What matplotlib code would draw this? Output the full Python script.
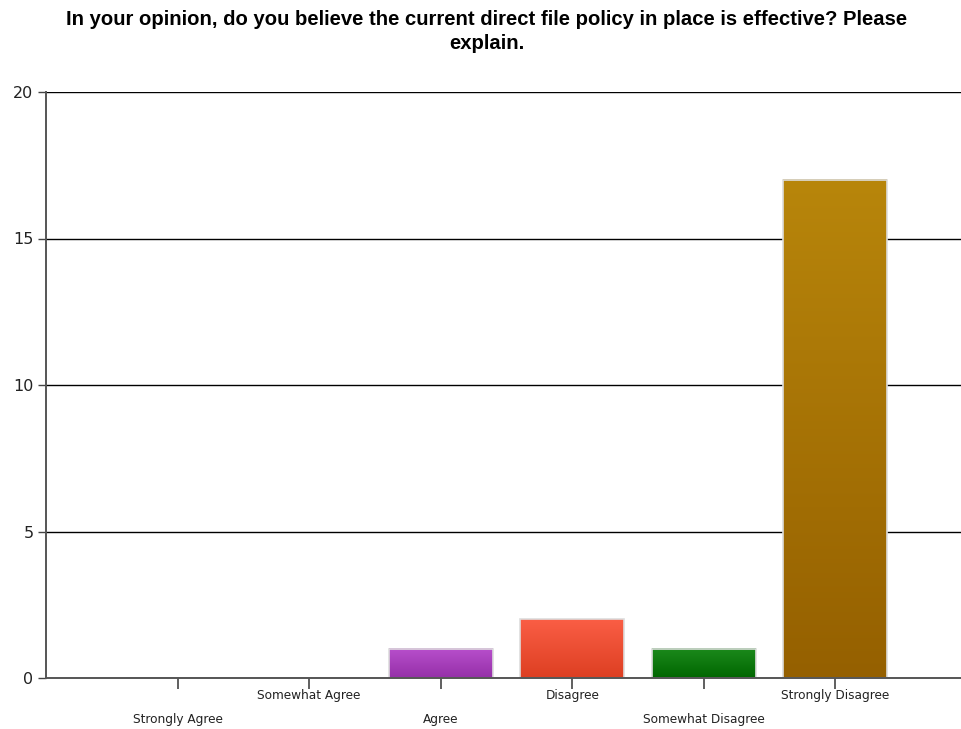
import numpy as np
import matplotlib
matplotlib.use("Agg")
import matplotlib.pyplot as plt
from matplotlib.colors import LinearSegmentedColormap

categories = ["Strongly Agree", "Somewhat Agree", "Agree", "Disagree",
              "Somewhat Disagree", "Strongly Disagree"]
counts = [0, 0, 1, 2, 1, 17]
top_colors = ["#B84FCC", "#B84FCC", "#B84FCC", "#FA5E45", "#1C8A1C", "#B8860B"]
bottom_colors = ["#9530A8", "#9530A8", "#9530A8", "#DD3F22", "#006600", "#956000"]
y_ticks = [0, 5, 10, 15, 20]
title = ("In your opinion, do you believe the current direct file policy in place is effective? Please\n"
         "explain.")

W, H = 961, 729
fig = plt.figure(figsize=(W / 100, H / 100), dpi=100)
left, right, top, bottom = 46, 967, 92, 678
ax = fig.add_axes([left / W, 1 - bottom / H, (right - left) / W, (bottom - top) / H])

positions = np.arange(1, len(categories) + 1)
bar_w = 0.79
bars = ax.bar(positions, counts, width=bar_w, facecolor="none",
              edgecolor="#DDDDDD", linewidth=1.2, zorder=4)
for bar, c0, c1, v in zip(bars, top_colors, bottom_colors, counts):
    if v <= 0:
        continue
    cmap = LinearSegmentedColormap.from_list("g", [c1, c0])
    grad = np.linspace(0, 1, 256).reshape(-1, 1)
    x0 = bar.get_x()
    ax.imshow(grad, cmap=cmap, origin="lower", aspect="auto",
              extent=(x0, x0 + bar.get_width(), 0, v), zorder=3)

ax.set_xlim(0, 7)
ax.set_ylim(0, 20)
ax.set_yticks(y_ticks)
ax.set_yticklabels([str(t) for t in y_ticks], fontsize=11.5, color="#222222",
                   family="DejaVu Sans")
for t in y_ticks[1:]:
    ax.axhline(t, color="black", linewidth=1.0, zorder=2)

ax.set_xticks(positions)
ax.set_xticklabels([])
for i, (p, name) in enumerate(zip(positions, categories)):
    dy = -42 if i % 2 == 0 else -17
    ax.annotate(name, xy=(p, 0), xycoords="data", xytext=(0, dy),
                textcoords="offset pixels", ha="center", va="center",
                fontsize=8.7, color="#222222", family="DejaVu Sans")

ax.tick_params(axis="x", length=8, width=1.2, color="#444444", direction="out")
ax.tick_params(axis="y", length=6, width=1.0, color="#444444", direction="out", pad=3)
for side in ["top", "right"]:
    ax.spines[side].set_visible(False)
ax.spines["left"].set_color("#555555")
ax.spines["left"].set_linewidth(1.4)
ax.spines["bottom"].set_color("#555555")
ax.spines["bottom"].set_linewidth(1.4)
ax.spines["bottom"].set_zorder(5)

fig.text(487 / W, 1 - 31.5 / H, title, ha="center", va="center", fontsize=14.6,
         fontweight="bold", family="Liberation Sans", linespacing=1.32)

fig.savefig("out.png", dpi=100)
